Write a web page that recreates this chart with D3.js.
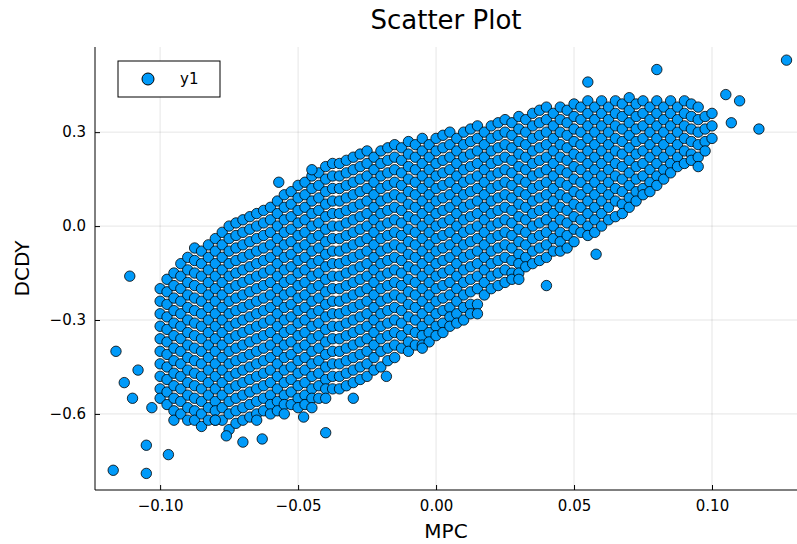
<!DOCTYPE html>
<html><head><meta charset="utf-8">
<script src="https://cdn.jsdelivr.net/npm/d3@7"></script>
<style>body{margin:0;background:#fff}text{font-family:"DejaVu Sans",sans-serif}</style>
</head><body><svg width="797" height="544"></svg>
<script>
// column x (MPC), then DCDY values in hundredths
const columnX = [-0.100,-0.0975,-0.095,-0.0925,-0.090,-0.0875,-0.085,-0.0825,-0.080,-0.0775,-0.075,-0.0725,-0.070,-0.0675,-0.065,-0.0625,-0.060,-0.0575,-0.055,-0.0525,-0.050,-0.0475,-0.045,-0.0425,-0.040,-0.0375,-0.035,-0.0325,-0.030,-0.0275,-0.025,-0.0225,-0.020,-0.0175,-0.015,-0.0125,-0.010,-0.0075,-0.005,-0.0025,0.000,0.0025,0.005,0.0075,0.010,0.0125,0.015,0.0175,0.020,0.0225,0.025,0.0275,0.030,0.0325,0.035,0.0375,0.040,0.0425,0.045,0.0475,0.050,0.0525,0.055,0.0575,0.060,0.0625,0.065,0.0675,0.070,0.0725,0.075,0.0775,0.080,0.0825,0.085,0.0875,0.090,0.0925,0.095,0.0975,0.100];
const columnY = [
[-20,-24,-28,-32,-36,-40,-44,-48,-52,-55],
[-17,-21,-25,-29,-33,-37,-41,-45,-49,-53,-57],
[-15,-19,-23,-27,-31,-35,-39,-43,-47,-51,-55,-59,-62],
[-12,-16,-20,-24,-28,-32,-36,-40,-44,-48,-52,-56,-60],
[-10,-14,-18,-22,-26,-30,-34,-38,-42,-46,-50,-54,-58,-62],
[-7,-11,-15,-19,-23,-27,-31,-35,-39,-43,-47,-51,-55,-59,-62],
[-8,-12,-16,-20,-24,-28,-32,-36,-40,-44,-48,-52,-56,-60,-64],
[-6,-10,-14,-18,-22,-26,-30,-34,-38,-42,-46,-50,-54,-58,-62],
[-4,-8,-12,-16,-20,-24,-28,-32,-36,-40,-44,-48,-52,-56,-59,-62],
[-2,-6,-10,-14,-18,-22,-26,-30,-34,-38,-42,-46,-50,-54,-58,-62],
[0,-4,-8,-12,-16,-20,-24,-28,-32,-36,-40,-44,-48,-52,-56,-60,-65],
[1,-3,-7,-11,-15,-19,-23,-27,-31,-35,-39,-43,-47,-51,-55,-59,-63],
[2,-2,-6,-10,-14,-18,-22,-26,-30,-34,-38,-42,-46,-50,-54,-58,-62],
[3,-1,-5,-9,-13,-17,-21,-25,-29,-33,-37,-41,-45,-49,-53,-57,-61],
[4,0,-4,-8,-12,-16,-20,-24,-28,-32,-36,-40,-44,-48,-52,-56,-60,-62],
[5,1,-3,-7,-11,-15,-19,-23,-27,-31,-35,-39,-43,-47,-51,-55,-59],
[6,2,-2,-6,-10,-14,-18,-22,-26,-30,-34,-38,-42,-46,-50,-54,-57,-60],
[8,4,0,-4,-8,-12,-16,-20,-24,-28,-32,-36,-40,-44,-48,-52,-56,-59],
[10,6,2,-2,-6,-10,-14,-18,-22,-26,-30,-34,-38,-42,-46,-50,-54,-57,-60],
[11,7,3,-1,-5,-9,-13,-17,-21,-25,-29,-33,-37,-41,-45,-49,-53,-57],
[13,9,5,1,-3,-7,-11,-15,-19,-23,-27,-31,-35,-39,-43,-47,-51,-55,-58],
[14,10,6,2,-2,-6,-10,-14,-18,-22,-26,-30,-34,-38,-42,-46,-50,-54,-57],
[16,12,8,4,0,-4,-8,-12,-16,-20,-24,-28,-32,-36,-40,-44,-48,-52,-55,-58],
[17,13,9,5,1,-3,-7,-11,-15,-19,-23,-27,-31,-35,-39,-43,-47,-51,-55],
[19,15,11,7,3,-1,-5,-9,-13,-17,-21,-25,-29,-33,-37,-41,-45,-49,-52,-55],
[20,16,12,8,4,0,-4,-8,-12,-16,-20,-24,-28,-32,-36,-40,-44,-48,-52],
[20,16,12,8,4,0,-4,-8,-12,-16,-20,-24,-28,-32,-36,-40,-44,-48,-52],
[21,17,13,9,5,1,-3,-7,-11,-15,-19,-23,-27,-31,-35,-39,-43,-47,-51],
[22,18,14,10,6,2,-2,-6,-10,-14,-18,-22,-26,-30,-34,-38,-42,-46,-50],
[23,19,15,11,7,3,-1,-5,-9,-13,-17,-21,-25,-29,-33,-37,-41,-45,-49],
[24,20,16,12,8,4,0,-4,-8,-12,-16,-20,-24,-28,-32,-36,-40,-44,-48],
[22,18,14,10,6,2,-2,-6,-10,-14,-18,-22,-26,-30,-34,-38,-42,-46],
[24,20,16,12,8,4,0,-4,-8,-12,-16,-20,-24,-28,-32,-36,-40,-45],
[25,21,17,13,9,5,1,-3,-7,-11,-15,-19,-23,-27,-31,-35,-39,-43],
[26,22,18,14,10,6,2,-2,-6,-10,-14,-18,-22,-26,-30,-34,-38,-42],
[25,21,17,13,9,5,1,-3,-7,-11,-15,-19,-23,-27,-31,-35,-39],
[27,23,19,15,11,7,3,-1,-5,-9,-13,-17,-21,-25,-29,-33,-37,-40],
[26,22,18,14,10,6,2,-2,-6,-10,-14,-18,-22,-26,-30,-34,-38],
[28,24,20,16,12,8,4,0,-4,-8,-12,-16,-20,-24,-28,-32,-35,-38],
[26,22,18,14,10,6,2,-2,-6,-10,-14,-18,-22,-26,-30,-34,-37],
[28,24,20,16,12,8,4,0,-4,-8,-12,-16,-20,-24,-28,-32,-35],
[29,25,21,17,13,9,5,1,-3,-7,-11,-15,-19,-23,-27,-31,-34],
[30,26,22,18,14,10,6,2,-2,-6,-10,-14,-18,-22,-26,-29,-32],
[28,24,20,16,12,8,4,0,-4,-8,-12,-16,-20,-24,-28,-31],
[30,26,22,18,14,10,6,2,-2,-6,-10,-14,-18,-22,-26,-30],
[31,27,23,19,15,11,7,3,-1,-5,-9,-13,-17,-21,-25,-28],
[32,28,24,20,16,12,8,4,0,-4,-8,-12,-16,-20,-25],
[30,26,22,18,14,10,6,2,-2,-6,-10,-14,-18,-22],
[32,28,24,20,16,12,8,4,0,-4,-8,-12,-16,-20],
[33,29,25,21,17,13,9,5,1,-3,-7,-11,-15,-19],
[34,30,26,22,18,14,10,6,2,-2,-6,-10,-14,-18],
[33,29,25,21,17,13,9,5,1,-3,-7,-11,-15,-17],
[35,31,27,23,19,15,11,7,3,-1,-5,-9,-12,-15],
[34,30,26,22,18,14,10,6,2,-2,-6,-10,-13],
[36,32,28,24,20,16,12,8,4,0,-4,-8,-12],
[37,33,29,25,21,17,13,9,5,1,-3,-7,-11],
[38,34,30,26,22,18,14,10,6,2,-2,-6,-10],
[36,32,28,24,20,16,12,8,4,0,-4,-8],
[38,34,30,26,22,18,14,10,6,2,-2,-5,-8],
[37,33,29,25,21,17,13,9,5,1,-3,-7],
[39,35,31,27,23,19,15,11,7,3,-1,-5],
[38,34,30,26,22,18,14,10,6,2,-2],
[40,36,32,28,24,20,16,12,8,4,0,-3],
[38,34,30,26,22,18,14,10,6,2,-2],
[40,36,32,28,24,20,16,12,8,4,0],
[38,34,30,26,22,18,14,10,6,2],
[40,36,32,28,24,20,16,12,8,3],
[39,35,31,27,23,19,15,11,7,4],
[41,37,33,29,25,21,17,13,9,6],
[39,35,31,27,23,19,15,11,8],
[40,36,32,28,24,20,16,12,10],
[38,34,30,26,22,18,14,11],
[40,36,32,28,24,20,16,13],
[38,34,30,26,22,18,15],
[40,36,32,28,24,20,17],
[38,34,30,26,22,19],
[40,36,32,28,24,20],
[39,35,31,27,23,21],
[38,34,30,26,22],
[35,31,27,24],
[36,32,28]
];
const outlierX = [-0.116,-0.117,-0.113,-0.111,-0.105,-0.105,-0.110,-0.097,-0.080,-0.063,-0.040,-0.076,0.058,0.105,0.110,0.117,0.127,0.080,0.055,0.107,-0.057,-0.045,-0.048,-0.018,0.040,0.030,0.095,0.015,-0.005,-0.108,-0.103,-0.070,-0.030];
const outlierY = [-0.40,-0.78,-0.50,-0.16,-0.79,-0.70,-0.55,-0.73,-0.62,-0.68,-0.66,-0.67,-0.09,0.42,0.40,0.31,0.53,0.50,0.46,0.33,0.14,0.18,-0.61,-0.48,-0.19,-0.17,0.19,-0.28,-0.39,-0.46,-0.58,-0.69,-0.55];
const xTicks = [-0.10,-0.05,0.00,0.05,0.10];
const yTicks = [-0.6,-0.3,0.0,0.3];

const points = [];
columnX.forEach((x,i)=>columnY[i].forEach(y=>points.push([x,y/100])));
outlierX.forEach((x,i)=>points.push([x,outlierY[i]]));

const svg = d3.select('svg');
const L=95,R=797,T=47,B=490;
const x = d3.scaleLinear().domain([-0.1236,0.1308]).range([L,R]);
const y = d3.scaleLinear().domain([-0.843,0.572]).range([B,T]);
const fmt = v => (v<0?'\u2212':'')+Math.abs(v).toFixed(2);
const fmtY = v => (v<0?'\u2212':'')+Math.abs(v).toFixed(1);

const g = svg.append('g');
g.selectAll('.gx').data(xTicks).enter().append('line')
  .attr('x1',d=>x(d)).attr('x2',d=>x(d)).attr('y1',T).attr('y2',B)
  .attr('stroke','#000').attr('stroke-opacity',0.1);
g.selectAll('.gy').data(yTicks).enter().append('line')
  .attr('y1',d=>y(d)).attr('y2',d=>y(d)).attr('x1',L).attr('x2',R)
  .attr('stroke','#000').attr('stroke-opacity',0.1);

svg.append('g').selectAll('circle').data(points).enter().append('circle')
  .attr('cx',d=>x(d[0])).attr('cy',d=>y(d[1])).attr('r',5.2)
  .attr('fill','#009af9').attr('stroke','#000').attr('stroke-width',0.8);

const ax = svg.append('g').attr('transform',`translate(0,${B})`)
  .call(d3.axisBottom(x).tickValues(xTicks).tickFormat(fmt).tickSizeInner(-5).tickSizeOuter(0).tickPadding(10));
const ay = svg.append('g').attr('transform',`translate(${L},0)`)
  .call(d3.axisLeft(y).tickValues(yTicks).tickFormat(fmtY).tickSizeInner(-5).tickSizeOuter(0).tickPadding(9));
[ax,ay].forEach(a=>{a.selectAll('text').attr('font-size',15).attr('fill','#000');a.select('.domain').attr('stroke','#000');});
ax.select('.domain').attr('d',`M${L},0H${R}`);
ay.select('.domain').attr('d',`M0,${T}V${B}`);

svg.append('text').attr('x',(L+R)/2).attr('y',29).attr('text-anchor','middle').attr('font-size',26).text('Scatter Plot');
svg.append('text').attr('x',(L+R)/2).attr('y',538).attr('text-anchor','middle').attr('font-size',20).text('MPC');
svg.append('text').attr('transform',`translate(29,${(T+B)/2}) rotate(-90)`).attr('text-anchor','middle').attr('font-size',20).text('DCDY');

const lg = svg.append('g');
lg.append('rect').attr('x',118).attr('y',61).attr('width',102).attr('height',36).attr('fill','#fff').attr('stroke','#000');
lg.append('circle').attr('cx',148).attr('cy',79).attr('r',6).attr('fill','#009af9').attr('stroke','#000');
lg.append('text').attr('x',180).attr('y',84).attr('font-size',15).text('y1');
</script></body></html>
